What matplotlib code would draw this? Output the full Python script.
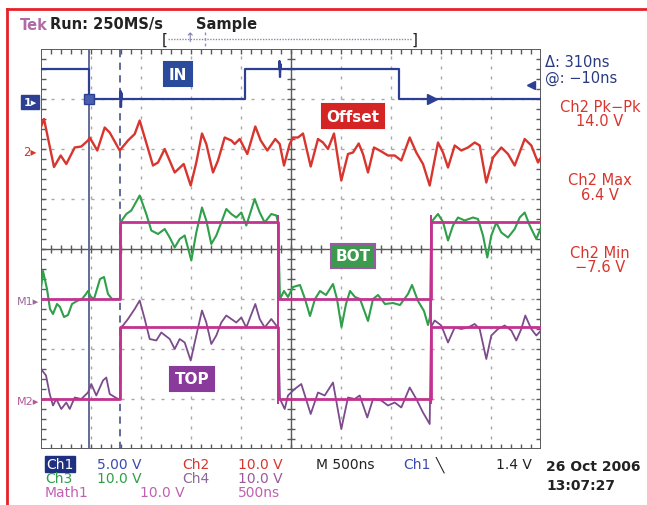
import numpy as np
import matplotlib
matplotlib.use("Agg")
import matplotlib.pyplot as plt

W, H = 647, 506

# time in ns from left edge of screen (500 ns/div), values in screen divisions
ch1_t = [0, 480, 480, 790, 795, 800, 805, 810, 2040, 2040, 2380, 2385, 2390, 2395, 2400, 3580, 3580, 5000]
ch1_v = [3.6, 3.6, 3.0, 3.0, 3.16, 2.84, 3.12, 3.0, 3.0, 3.6, 3.6, 3.76, 3.44, 3.7, 3.6, 3.6, 3.0, 3.0]

ch2_t = [0, 30, 130, 197, 253, 337, 403, 470, 487, 563, 637, 687, 787, 870, 937, 987, 1037,
         1120, 1170, 1237, 1337, 1427, 1497, 1553, 1610, 1653, 1720, 1770, 1837, 1903, 1937,
         1987, 2063, 2143, 2197, 2263, 2343, 2387, 2430, 2487, 2520, 2570, 2620, 2697, 2770,
         2820, 2870, 2930, 3003, 3070, 3120, 3177, 3220, 3270, 3330, 3387, 3470, 3537, 3603,
         3687, 3753, 3820, 3887, 3970, 4020, 4070, 4137, 4203, 4270, 4337, 4387, 4453, 4520,
         4603, 4670, 4737, 4837, 4903, 4970, 5000]
ch2_v = [2.44, 2.60, 1.64, 1.87, 1.70, 2.03, 2.05, 2.17, 2.23, 1.97, 2.43, 2.33, 1.97, 2.17,
         2.30, 2.57, 2.23, 1.67, 1.73, 2.00, 1.53, 1.70, 1.27, 1.73, 2.31, 2.10, 1.53, 1.77,
         2.23, 2.17, 2.10, 2.20, 1.90, 2.45, 2.17, 1.97, 2.20, 2.10, 1.67, 2.10, 2.23, 2.23,
         2.31, 1.65, 2.20, 2.13, 2.00, 2.31, 1.37, 1.90, 1.93, 2.11, 1.90, 1.53, 2.03, 1.97,
         1.87, 1.87, 1.77, 2.23, 1.93, 1.70, 1.27, 2.13, 1.93, 1.63, 2.07, 1.97, 2.03, 2.13,
         2.07, 1.33, 1.83, 2.03, 1.90, 1.67, 2.20, 2.07, 1.73, 1.83]

ch3_t = [0, 20, 60, 90, 120, 160, 190, 230, 270, 310, 360, 410, 450, 470, 500, 530, 560, 590,
         630, 670, 710, 770, 790,
         797, 853, 903, 987, 1053, 1103, 1170, 1237, 1287, 1337, 1387, 1437, 1503, 1553, 1610,
         1653, 1703, 1753, 1803, 1853, 1903, 1953, 2003, 2053, 2137, 2187, 2237, 2303, 2353, 2370,
         2390, 2430, 2470, 2520, 2590, 2640, 2690, 2740, 2790, 2850, 2920, 2960, 3005, 3050,
         3090, 3140, 3190, 3270, 3320, 3370, 3440, 3520, 3590, 3670, 3710, 3770, 3830, 3870, 3890,
         3903, 3970, 4020, 4070, 4120, 4170, 4237, 4320, 4370, 4420, 4463, 4503, 4553, 4603,
         4670, 4737, 4787, 4837, 4887, 4953, 5000]
ch3_v = [-0.80, -0.44, -0.80, -1.20, -1.30, -1.10, -1.16, -1.36, -1.32, -1.10, -1.04, -1.00,
         -0.90, -0.84, -0.96, -1.00, -0.80, -0.60, -0.56, -0.90, -1.00, -1.00, -1.00,
         0.54, 0.70, 0.77, 1.07, 0.70, 0.37, 0.30, 0.40, 0.23, 0.03, 0.20, 0.27, -0.23, 0.33,
         0.83, 0.57, 0.10, 0.27, 0.53, 0.80, 0.70, 0.63, 0.73, 0.47, 1.00, 0.73, 0.53, 0.70,
         0.67, 0.54,
         -1.00, -0.84, -0.96, -0.76, -0.72, -1.00, -1.34, -1.00, -0.84, -0.92, -0.70, -1.00,
         -1.56, -1.10, -0.84, -0.96, -1.00, -1.44, -1.00, -0.92, -1.10, -1.08, -1.12, -0.90,
         -0.72, -1.04, -1.24, -1.52, -1.36,
         0.54, 0.70, 0.54, 0.17, 0.47, 0.63, 0.57, 0.63, 0.60, 0.27, -0.17, 0.27, 0.53, 0.33,
         0.23, 0.40, 0.63, 0.73, 0.47, 0.20, 0.43]

ch4_t = [0, 50, 87, 120, 153, 203, 253, 287, 337, 403, 470, 503, 553, 620, 653, 687, 770, 790,
         800, 820, 870, 937, 987, 1037, 1087, 1153, 1203, 1287, 1337, 1387, 1437, 1497, 1553,
         1610, 1653, 1703, 1753, 1803, 1853, 1903, 1953, 2003, 2053, 2143, 2187, 2237, 2303,
         2353, 2370,
         2390, 2437, 2470, 2537, 2603, 2697, 2770, 2837, 2920, 3003, 3070, 3137, 3187, 3263,
         3320, 3403, 3470, 3537, 3603, 3687, 3753, 3820, 3887,
         3900, 3937, 4003, 4070, 4137, 4203, 4270, 4337, 4387, 4453, 4503, 4570, 4637, 4703,
         4753, 4803, 4843, 4903, 4953, 5000]
ch4_v = [-2.40, -2.53, -2.90, -3.13, -3.00, -3.20, -3.07, -3.20, -2.97, -3.00, -2.87, -2.70,
         -2.93, -2.63, -2.57, -2.90, -3.00, -3.00,
         -1.56, -1.53, -1.40, -1.20, -1.03, -1.40, -1.80, -1.83, -1.67, -1.80, -2.00, -1.80,
         -1.87, -2.23, -1.73, -1.23, -1.47, -1.90, -1.73, -1.47, -1.33, -1.40, -1.47, -1.37,
         -1.57, -1.10, -1.40, -1.57, -1.40, -1.53, -1.56,
         -3.00, -3.20, -2.93, -2.80, -2.70, -3.30, -2.87, -2.93, -2.67, -3.60, -2.97, -3.00,
         -2.93, -3.37, -3.00, -3.03, -3.13, -3.07, -3.17, -2.77, -3.00, -3.27, -3.50,
         -1.56, -1.43, -1.53, -1.87, -1.57, -1.60, -1.57, -1.50, -1.60, -2.20, -1.73, -1.60,
         -1.53, -1.63, -1.83, -1.60, -1.33, -1.60, -1.73, -1.63]

math_edges = [790, 2370, 3900]
bot_levels = [-1.0, 0.54]
top_levels = [-3.0, -1.56]

cursor_a, cursor_b = 480, 790

C_BLUE = "#2c3f93"
C_RED = "#d8352e"
C_GREEN = "#2f9f4a"
C_PURPLE = "#7b4b8c"
C_PINK = "#c2338f"
C_GRID = "#a8a8a8"
C_FRAME = "#5a5a5a"


def fxy(x, y):
    return x / W, 1 - y / H


def step_series(edges, levels):
    # build a square wave from edge times, alternating between the two levels
    t = [0]
    v = [levels[0]]
    lev = 0
    for e in edges:
        t += [e, e]
        v += [levels[lev], levels[1 - lev]]
        lev = 1 - lev
    t.append(5000)
    v.append(levels[lev])
    return t, v


fig = plt.figure(figsize=(W / 100, H / 100), dpi=100)
fig.patch.set_facecolor("white")

ax = fig.add_axes([41 / W, 1 - 450 / H, 500 / W, 400 / H])
ax.set_xlim(0, 5000)
ax.set_ylim(-4, 4)
ax.axis("off")

# graticule
for d in range(1, 10):
    ax.axvline(d * 500, color=C_GRID, lw=1, ls=(0, (2.2, 5)), zorder=1)
for d in range(-3, 4):
    ax.axhline(d, color=C_GRID, lw=1, ls=(0, (2.2, 5)), zorder=1)
ax.axvline(2500, color=C_FRAME, lw=1, zorder=1)
ax.axhline(0, color=C_FRAME, lw=1, zorder=1)
minor_t = np.arange(100, 5000, 100)
minor_v = np.arange(-3.8, 4.0, 0.2)
ax.vlines(minor_t, -0.08, 0.08, color=C_FRAME, lw=1, zorder=1)
ax.hlines(minor_v, 2500 - 40, 2500 + 40, color=C_FRAME, lw=1, zorder=1)
ax.vlines(minor_t, 4 - 0.1, 4, color=C_FRAME, lw=1, zorder=1)
ax.vlines(minor_t, -4, -4 + 0.1, color=C_FRAME, lw=1, zorder=1)
ax.hlines(minor_v, 0, 50, color=C_FRAME, lw=1, zorder=1)
ax.hlines(minor_v, 5000 - 50, 5000, color=C_FRAME, lw=1, zorder=1)
ax.add_patch(plt.Rectangle((0, -4), 5000, 8, fill=False, ec=C_FRAME, lw=1.4, zorder=2))

# cursors
ax.axvline(cursor_a, color="#55608f", lw=1.3, zorder=3)
ax.axvline(cursor_b, color="#55608f", lw=1.3, ls=(0, (4, 3)), zorder=3)

# waveforms
ax.plot(ch1_t, ch1_v, color=C_BLUE, lw=1.6, zorder=5)
ax.plot(ch2_t, ch2_v, color=C_RED, lw=1.7, zorder=5)
ax.plot(ch3_t, ch3_v, color=C_GREEN, lw=1.5, zorder=4)
ax.plot(ch4_t, ch4_v, color=C_PURPLE, lw=1.3, zorder=4)
bt, bv = step_series(math_edges, bot_levels)
tt, tv = step_series(math_edges, top_levels)
ax.plot(bt, bv, color=C_PINK, lw=2.0, zorder=6)
ax.plot(tt, tv, color=C_PINK, lw=2.0, zorder=6)
ax.vlines(math_edges[1:], top_levels[0] - 0.1, bot_levels[1] + 0.15, color=C_PINK, lw=1.4, zorder=6)

# ch1 markers
ax.plot([cursor_a], [ch1_v[2]], marker="s", ms=7, mfc="#4a5fb0", mec=C_BLUE, zorder=7)
ax.plot([3910], [3.0], marker=">", ms=7, color=C_BLUE, zorder=7)
ax.plot([4900], [3.28], marker="<", ms=6, color=C_BLUE, zorder=7)

# trace labels inside the screen
def tag(x, y, s, fc, ec=None):
    fig.text(*fxy(x, y), s, color="white", fontsize=11, fontweight="bold", ha="center", va="center",
             bbox=dict(boxstyle="square,pad=0.3", fc=fc, ec=ec or fc, lw=1.5), zorder=10)

tag(178, 75, "IN", "#2a4a9c")
tag(353, 117, "Offset", "#d42424")
tag(353, 257, "BOT", "#3b9a4c", "#9a5aa8")
tag(192, 380, "TOP", "#8a3a9a")

# left channel markers
fig.text(*fxy(30, 103), "1\u25b8", color="white", fontsize=8, fontweight="bold", ha="center", va="center",
         bbox=dict(boxstyle="square,pad=0.2", fc=C_BLUE, ec=C_BLUE))
fig.text(*fxy(30, 152), "2\u25b8", color=C_RED, fontsize=8.5, ha="center", va="center")
fig.text(*fxy(28, 302), "M1\u25b8", color="#9a6a9a", fontsize=8, ha="center", va="center")
fig.text(*fxy(28, 402), "M2\u25b8", color="#b05a9a", fontsize=8, ha="center", va="center")

# header
fig.text(*fxy(20, 25), "Tek", color="#b06aa8", fontsize=10.5, fontweight="bold", va="center")
fig.text(*fxy(50, 25), "Run: 250MS/s", color="#222222", fontsize=10.5, fontweight="bold", va="center")
fig.text(*fxy(196, 25), "Sample", color="#222222", fontsize=10.5, fontweight="bold", va="center")
fig.text(*fxy(165, 40), "[", color="#222222", fontsize=11, ha="center", va="center")
fig.text(*fxy(415, 40), "]", color="#222222", fontsize=11, ha="center", va="center")
fig.add_artist(plt.Line2D([168 / W, 412 / W], [1 - 40 / H] * 2, color="#8a8aa8", lw=1, ls=(0, (1, 1))))
fig.text(*fxy(190, 39), "\u2191", color="#7a7ab0", fontsize=9, ha="center", va="center")
fig.add_artist(plt.Line2D([205 / W] * 2, [1 - 33 / H, 1 - 47 / H], color="#8a8ad0", lw=1, ls=(0, (2, 2))))

# right side readouts
fig.text(*fxy(545, 63), "\u0394: 310ns", color="#2a3a80", fontsize=10.5, va="center")
fig.text(*fxy(545, 78), "@: \u221210ns", color="#2a3a80", fontsize=10.5, va="center")
for y, s in [(108, "Ch2 Pk\u2212Pk"), (122, "14.0 V"), (181, "Ch2 Max"), (195, "6.4 V"),
             (254, "Ch2 Min"), (268, "\u22127.6 V")]:
    fig.text(*fxy(600, y), s, color=C_RED, fontsize=10.5, ha="center", va="center")

# bottom legend
fig.text(*fxy(46, 465), "Ch1", color="white", fontsize=10, va="center",
         bbox=dict(boxstyle="square,pad=0.1", fc="#203080", ec="#203080"))
row = [
    (97, 465, "5.00 V", "#3a4ab0"), (182, 465, "Ch2", C_RED), (238, 465, "10.0 V", C_RED),
    (316, 465, "M 500ns", "#222222"), (403, 465, "Ch1", "#3a4ab0"), (436, 465, "\u2572", "#222222"),
    (496, 465, "1.4 V", "#222222"),
    (45, 479, "Ch3", C_GREEN), (97, 479, "10.0 V", C_GREEN), (182, 479, "Ch4", "#8a6a98"),
    (238, 479, "10.0 V", "#9a5a9a"),
    (45, 493, "Math1", "#c060b0"), (140, 493, "10.0 V", "#c060b0"), (238, 493, "500ns", "#c060b0"),
]
for x, y, s, c in row:
    fig.text(*fxy(x, y), s, color=c, fontsize=10, va="center")
fig.text(*fxy(546, 467), "26 Oct 2006", color="#222222", fontsize=10, fontweight="bold", va="center")
fig.text(*fxy(546, 486), "13:07:27", color="#222222", fontsize=10, fontweight="bold", va="center")

# red frame round the picture (left and top edges only are in view)
for xs, ys in [([7, 7], [10, 506]), ([7, 647], [10, 10])]:
    fig.add_artist(plt.Line2D([x / W for x in xs], [1 - y / H for y in ys], color="#e8202a", lw=2))

fig.savefig("out.png", dpi=100, facecolor="white")
